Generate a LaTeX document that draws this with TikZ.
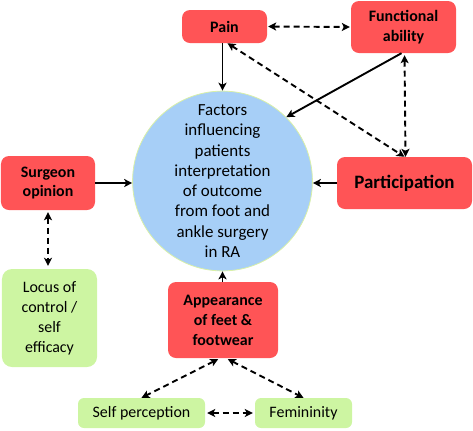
\documentclass[tikz,border=0pt]{standalone}
\usepackage{fontspec}
\setmainfont{Carlito}
\usetikzlibrary{arrows.meta}
\definecolor{boxred}{HTML}{FF5456}
\definecolor{boxgreen}{HTML}{CDF5A2}
\definecolor{circblue}{HTML}{A7CFF7}
\definecolor{circedge}{HTML}{D9F0A8}
\tikzset{
  redbox/.style={fill=boxred, rounded corners=8bp, inner sep=0pt, align=center,
    font=\fontsize{16}{20}\selectfont\bfseries},
  greenbox/.style={fill=boxgreen, rounded corners=10bp, inner sep=0pt, align=center,
    font=\fontsize{16}{20}\selectfont},
  solidarrow/.style={line width=1.9bp, -{Stealth[length=8bp,width=8bp,inset=2bp]}},
  dasharrow/.style={line width=1.9bp, dash pattern=on 6bp off 4bp,
    {Stealth[length=8bp,width=8bp,inset=2bp]}-{Stealth[length=8bp,width=8bp,inset=2bp]}},
}
\begin{document}
\begin{tikzpicture}[x=1bp,y=-1bp]
\useasboundingbox (0,0) rectangle (473,430);
% central circle
\node[circle, fill=circblue, draw=circedge, line width=0.8bp, minimum size=166bp, inner sep=0pt,
  align=center, font=\fontsize{17}{20.3}\selectfont] (circ) at (222.5,181)
  {Factors\\influencing\\patients\\interpretation\\of outcome\\from foot and\\ankle surgery\\in RA};
% red boxes
\node[redbox, minimum width=85bp, minimum height=33bp] (pain) at (224.5,26.5) {Pain};
\node[redbox, minimum width=105bp, minimum height=52bp] (func) at (403.5,27) {Functional\\ability};
\node[redbox, minimum width=135bp, minimum height=52bp, font=\fontsize{19}{22}\selectfont\bfseries] (part) at (404.5,183) {Participation};
\node[redbox, minimum width=94bp, minimum height=54bp] (surg) at (48,183) {Surgeon\\opinion};
\node[redbox, minimum width=110bp, minimum height=76bp] (appear) at (223,320) {Appearance\\of feet \&\\footwear};
% green boxes
\node[greenbox, minimum width=95bp, minimum height=98bp] (locus) at (49.5,318) {Locus of\\control /\\self\\efficacy};
\node[greenbox, minimum width=127bp, minimum height=30bp, rounded corners=6bp] (selfp) at (141.5,413) {Self perception};
\node[greenbox, minimum width=97bp, minimum height=30bp, rounded corners=6bp] (fem) at (303.5,413) {Femininity};
% solid arrows
\draw[solidarrow] (pain.south -| circ.north) -- (circ.north);
\draw[solidarrow] ([xshift=-2bp]func.south) -- (circ.45);
\draw[solidarrow] (part.west) -- (circ.east |- part.west);
\draw[solidarrow] (surg.east) -- (circ.west |- surg.east);
\draw[solidarrow] (appear.north -| circ.south) -- (circ.south);
% dashed arrows
\draw[dasharrow, shorten <=1bp, shorten >=1bp] (pain.east) -- (func.west);
\draw[dasharrow] ([xshift=3bp]pain.south) -- (part.north);
\draw[dasharrow, shorten <=2bp] ([xshift=1bp]func.south) -- ([xshift=1bp]part.north);
\draw[dasharrow, shorten <=2bp, shorten >=3bp] (surg.south) -- (surg.south |- locus.north);
\draw[dasharrow, shorten <=2bp] ([xshift=-3bp]appear.south) -- (selfp.north);
\draw[dasharrow, shorten <=2bp] ([xshift=3bp]appear.south) -- (fem.north);
\draw[dasharrow, shorten <=2bp, shorten >=2bp] (selfp.east) -- (fem.west);
\end{tikzpicture}
\end{document}
